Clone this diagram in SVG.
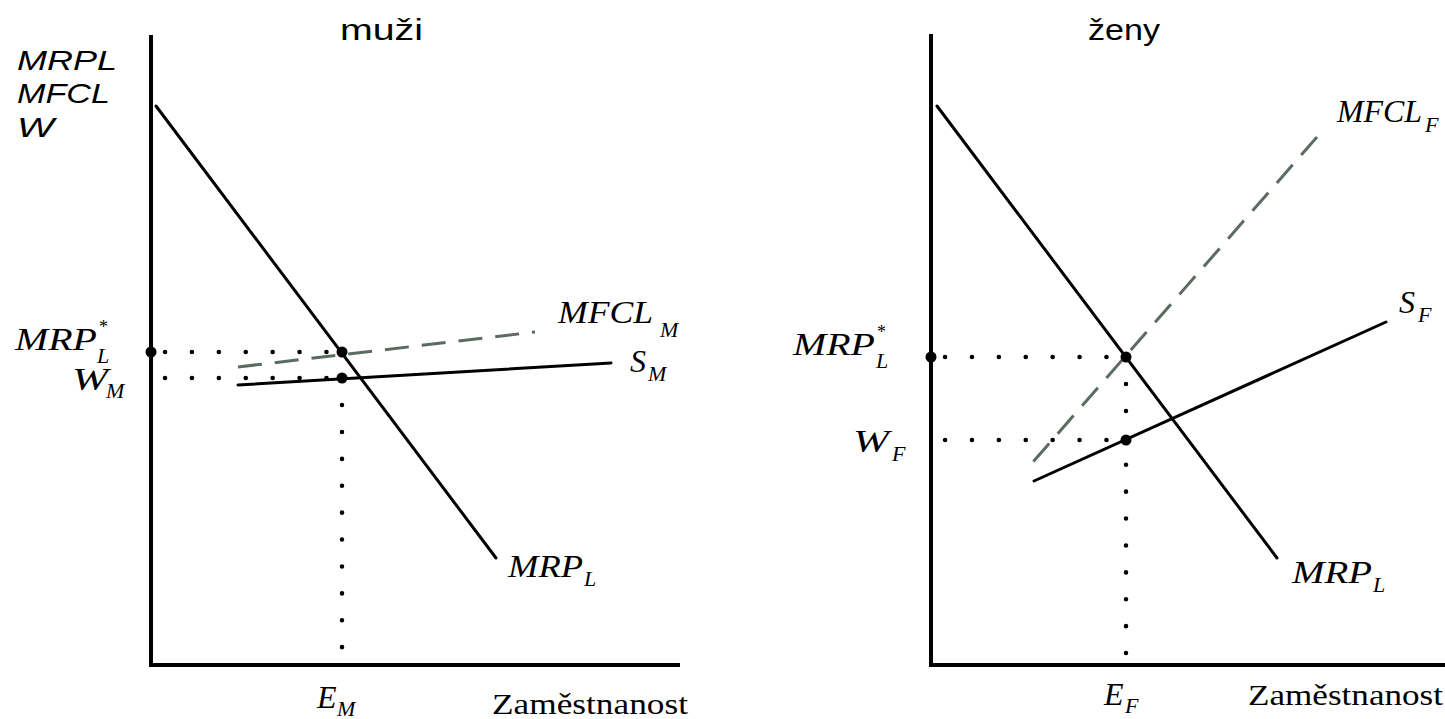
<svg xmlns="http://www.w3.org/2000/svg" width="1445" height="719" viewBox="0 0 1445 719">
<style>
.axis{stroke:#000;stroke-width:4;fill:none}
.curve{stroke:#000;stroke-width:3;fill:none;stroke-linecap:round}
.dash{stroke:#5b6b5f;stroke-width:3;fill:none;stroke-dasharray:24 13}
.dot{stroke:#000;stroke-width:4.5;fill:none;stroke-linecap:round;stroke-dasharray:0.1 26.8}
.pt{fill:#000}
.sans{font-family:"Liberation Sans",Arial,sans-serif;fill:#000}
.si{font-family:"Liberation Sans",Arial,sans-serif;font-style:italic;font-size:28px;fill:#000}
.lab{font-family:"Liberation Serif","Times New Roman",serif;font-style:italic;font-size:32px;fill:#000}
.sub{font-family:"Liberation Serif","Times New Roman",serif;font-style:italic;font-size:22px;fill:#000}
.star{font-family:"Liberation Serif","Times New Roman",serif;font-size:18px;fill:#000}
.rom{font-family:"Liberation Serif","Times New Roman",serif;font-size:30px;fill:#000}
</style>
<rect width="1445" height="719" fill="#fff"/>
<g id="panel-muzi">
  <g id="axes-muzi">
    <line class="axis" x1="151" y1="35" x2="151" y2="667"/>
    <line class="axis" x1="149" y1="665" x2="680" y2="665"/>
  </g>
  <g id="connectors-muzi">
    <line class="dot" x1="165" y1="352" x2="342" y2="352"/>
    <line class="dot" x1="165" y1="378" x2="342" y2="378"/>
    <line class="dot" x1="342" y1="405" x2="342" y2="665"/>
    <line class="dash" x1="238" y1="367" x2="535" y2="332"/>
    <line class="curve" x1="238" y1="385" x2="611" y2="363"/>
    <line class="curve" x1="156" y1="106" x2="496" y2="558"/>
    <circle class="pt" cx="151" cy="352" r="5.5"/>
    <circle class="pt" cx="342" cy="352" r="5.5"/>
    <circle class="pt" cx="342" cy="378" r="5.5"/>
  </g>
  <g id="labels-muzi">
    <text class="sans" x="340" y="40" font-size="29" textLength="83" lengthAdjust="spacingAndGlyphs">muži</text>
    <text class="si" x="17" y="70" textLength="100" lengthAdjust="spacingAndGlyphs">MRPL</text>
    <text class="si" x="17" y="103" textLength="93" lengthAdjust="spacingAndGlyphs">MFCL</text>
    <text class="si" x="17" y="137" textLength="37" lengthAdjust="spacingAndGlyphs">W</text>
    <text class="lab" x="15" y="350" textLength="82" lengthAdjust="spacingAndGlyphs">MRP</text>
    <text class="star" x="99" y="333">*</text>
    <text class="sub" x="97" y="363">L</text>
    <text class="lab" x="72" y="390" textLength="36" lengthAdjust="spacingAndGlyphs">W</text>
    <text class="sub" x="106" y="398">M</text>
    <text class="lab" x="558" y="323" textLength="95" lengthAdjust="spacingAndGlyphs">MFCL</text>
    <text class="sub" x="660" y="337">M</text>
    <text class="lab" x="630" y="372">S</text>
    <text class="sub" x="648" y="381">M</text>
    <text class="lab" x="508" y="577" textLength="75" lengthAdjust="spacingAndGlyphs">MRP</text>
    <text class="sub" x="584" y="586">L</text>
    <text class="lab" x="317" y="708">E</text>
    <text class="sub" x="337" y="716">M</text>
    <text class="rom" x="492" y="714" textLength="196" lengthAdjust="spacingAndGlyphs">Zaměstnanost</text>
  </g>
</g>
<g id="panel-zeny">
  <g id="axes-zeny">
    <line class="axis" x1="931" y1="34" x2="931" y2="667"/>
    <line class="axis" x1="929" y1="665" x2="1445" y2="665"/>
  </g>
  <g id="connectors-zeny">
    <line class="dot" x1="945" y1="357" x2="1126" y2="357"/>
    <line class="dot" x1="945" y1="440" x2="1126" y2="440"/>
    <line class="dot" x1="1126" y1="384" x2="1126" y2="665"/>
    <line class="dash" x1="1317" y1="137" x2="1026" y2="470"/>
    <line class="curve" x1="1034" y1="481" x2="1386" y2="322"/>
    <line class="curve" x1="937" y1="106" x2="1277" y2="558"/>
    <circle class="pt" cx="931" cy="357" r="5.5"/>
    <circle class="pt" cx="1126" cy="357" r="5.5"/>
    <circle class="pt" cx="1126" cy="440" r="5.5"/>
  </g>
  <g id="labels-zeny">
    <text class="sans" x="1088" y="40" font-size="29" textLength="72" lengthAdjust="spacingAndGlyphs">ženy</text>
    <text class="lab" x="793" y="355" textLength="82" lengthAdjust="spacingAndGlyphs">MRP</text>
    <text class="star" x="877" y="338">*</text>
    <text class="sub" x="876" y="368">L</text>
    <text class="lab" x="853" y="452" textLength="36" lengthAdjust="spacingAndGlyphs">W</text>
    <text class="sub" x="892" y="461">F</text>
    <text class="lab" x="1337" y="122" textLength="85" lengthAdjust="spacingAndGlyphs">MFCL</text>
    <text class="sub" x="1425" y="132">F</text>
    <text class="lab" x="1399" y="313">S</text>
    <text class="sub" x="1418" y="322">F</text>
    <text class="lab" x="1292" y="583" textLength="80" lengthAdjust="spacingAndGlyphs">MRP</text>
    <text class="sub" x="1373" y="592">L</text>
    <text class="lab" x="1104" y="705">E</text>
    <text class="sub" x="1125" y="713">F</text>
    <text class="rom" x="1248" y="705" textLength="195" lengthAdjust="spacingAndGlyphs">Zaměstnanost</text>
  </g>
</g>
</svg>
